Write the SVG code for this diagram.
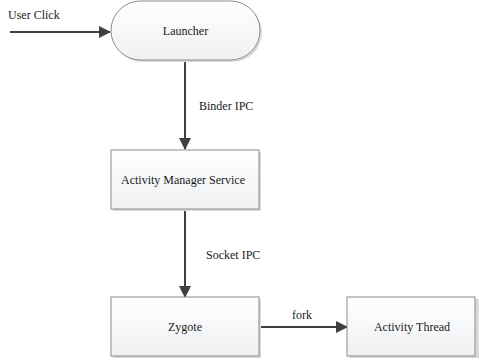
<svg xmlns="http://www.w3.org/2000/svg" width="479" height="364" viewBox="0 0 479 364">
<style>
.box{fill:url(#g);stroke:#8c8c8c;stroke-width:1}
.sh{fill:#d9d9d9}
.t{font-family:'Liberation Serif','Times New Roman','DejaVu Serif',serif;font-size:12px;fill:#1a1a1a}
.c{text-anchor:middle}
.ln{stroke:#404040;stroke-width:2;fill:none}
</style>
<defs>
<linearGradient id="g" x1="0" y1="0" x2="0" y2="1"><stop offset="0" stop-color="#ffffff"/><stop offset="1" stop-color="#eef0f2"/></linearGradient>
<marker id="a" markerWidth="12" markerHeight="12" refX="11" refY="6" orient="auto" markerUnits="userSpaceOnUse"><path d="M0,0 L12,6 L0,12 z" fill="#404040"/></marker>
</defs>
<g id="connectors">
<line class="ln" x1="10" y1="32" x2="110" y2="32" marker-end="url(#a)"/>
<line class="ln" x1="185" y1="61" x2="185" y2="149" marker-end="url(#a)"/>
<line class="ln" x1="185" y1="209" x2="185" y2="297" marker-end="url(#a)"/>
<line class="ln" x1="259" y1="327" x2="347" y2="327" marker-end="url(#a)"/>
<text class="t" x="8" y="19">User Click</text>
<text class="t" x="199" y="110">Binder IPC</text>
<text class="t" x="206" y="259">Socket IPC</text>
<text class="t" x="292" y="319">fork</text>
</g>
<g id="launcher">
<rect class="sh" x="113" y="3" width="149" height="59" rx="29.5"/>
<rect class="box" x="111" y="1" width="149" height="59" rx="29.5"/>
<text class="t c" x="185.5" y="35">Launcher</text>
</g>
<g id="ams">
<rect class="sh" x="113" y="152" width="148" height="59"/>
<rect class="box" x="111" y="150" width="148" height="59"/>
<text class="t c" x="183" y="184">Activity Manager Service</text>
</g>
<g id="zygote">
<rect class="sh" x="113" y="299" width="148" height="59"/>
<rect class="box" x="111" y="297" width="148" height="59"/>
<text class="t c" x="185" y="331">Zygote</text>
</g>
<g id="activity-thread">
<rect class="sh" x="349" y="299" width="130" height="59"/>
<rect class="box" x="347" y="297" width="128" height="59"/>
<text class="t c" x="412" y="331">Activity Thread</text>
</g>
</svg>
